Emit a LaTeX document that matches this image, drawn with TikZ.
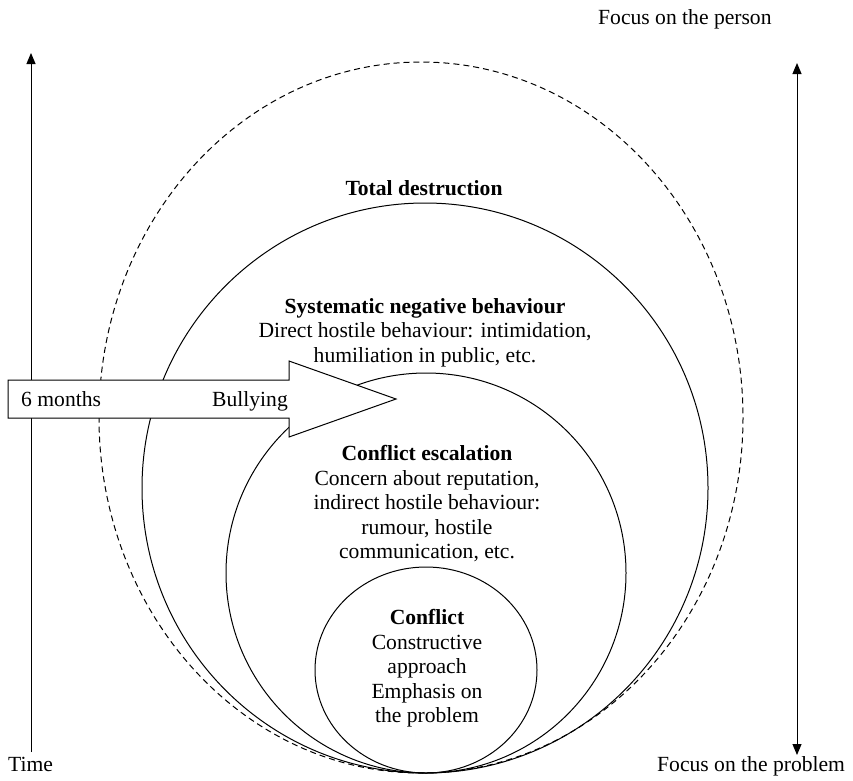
\documentclass[tikz,border=0pt]{standalone}
\usepackage{fontspec}
\setmainfont{Liberation Serif}
\usetikzlibrary{arrows.meta}
\begin{document}
\begin{tikzpicture}[x=1pt,y=-1pt,
  every node/.style={inner sep=0pt, font=\fontsize{21.6}{24.6}\selectfont},
  ring/.style={draw=black, line width=1pt},
  guide/.style={draw=black, dash pattern=on 6pt off 4pt, line width=1pt},
  axisline/.style={draw=black, line width=1pt},
  tip/.style={Triangle[length=11pt,width=9pt]},
  blockarrow/.style={draw=black, fill=white, line width=1pt, line join=miter},
  stage/.style={align=center, anchor=north}
]
\useasboundingbox (0,0) rectangle (853,780);

% nested stages of the conflict
\draw[guide] (421,417.5) ellipse [x radius=322, y radius=355.5];
\draw[ring] (425,488) ellipse [x radius=283, y radius=285];
\draw[ring] (426,573) ellipse [x radius=200, y radius=200];
\draw[ring] (426,670) ellipse [x radius=111, y radius=103];

% time axis on the left
\coordinate (timeS) at (31,752);
\coordinate (timeE) at (31,53);
\draw[axisline, -{Triangle[length=11pt,width=9pt]}] (timeS) -- (timeE);

% person / problem axis on the right
\coordinate (focusTop) at (797,63);
\coordinate (focusBot) at (797,755);
\draw[axisline, {Triangle[length=11pt,width=9pt]}-{Triangle[length=11pt,width=9pt]}] (focusTop) -- (focusBot);

% bullying block arrow
\draw[blockarrow] (8,380) -- (289,380) -- (289,361) -- (396,399) -- (289,437) -- (289,418) -- (8,418) -- cycle;
\node[anchor=base west] (months) at (21,406) {6 months};
\node[anchor=base east] (bully) at (288,406) {Bullying};

% labels
\node[anchor=base west] (person) at (598,24) {Focus on the person};
\node[anchor=base west] (problem) at (657,771) {Focus on the problem};
\node[anchor=base west] (time) at (8,771) {Time};

\node[anchor=base, font=\fontsize{21.6}{24.6}\selectfont\bfseries] (total) at (424,195) {Total destruction};
\node[stage] (systematic) at (425,298) {\textbf{Systematic negative behaviour}\\Direct hostile behaviour: intimidation,\\humiliation in public, etc.};
\node[stage] (escalation) at (427,445) {\textbf{Conflict escalation}\\Concern about reputation,\\indirect hostile behaviour:\\rumour, hostile\\communication, etc.};
\node[stage] (conflict) at (427,609) {\textbf{Conflict}\\Constructive\\approach\\Emphasis on\\the problem};
\end{tikzpicture}
\end{document}
